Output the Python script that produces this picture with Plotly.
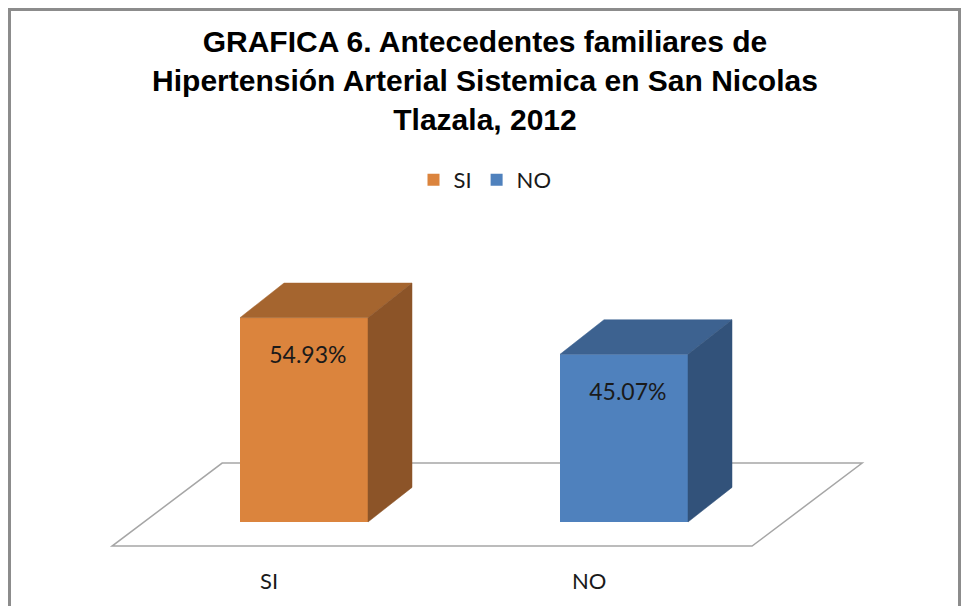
import plotly.graph_objects as go

# data
categories = ["SI", "NO"]
values = [54.93, 45.07]
value_labels = ["54.93%", "45.07%"]

front_colors = ["#DB843D", "#4F81BD"]
top_colors = ["#A5652F", "#3D6290"]
side_colors = ["#8C5428", "#32527A"]

title_text = (
    "GRAFICA 6. Antecedentes familiares de<br>"
    "Hipertensión Arterial Sistemica en San Nicolas<br>"
    "Tlazala, 2012"
)

# the page puts the plot 8px in from each edge
PAGE_PAD = 8
W, H = 969 - 2 * PAGE_PAD, 614 - 2 * PAGE_PAD

# axis scale: category 0 centred at x=296px, value 0 at y=514px
X0_PX, X_SCALE = 304 - PAGE_PAD, 320
Y0_PX, Y_SCALE = 522 - PAGE_PAD, 3.72

BAR_W = 0.4
# fake 3d depth of a bar and of the floor (x units, y units)
BAR_DX, BAR_DY = 0.1375, 9.3
FLOOR_DX, FLOOR_DY = 0.344, 22.3
FLOOR_FRONT = 0.29  # share of the floor depth in front of the bars

fig = go.Figure()

# front faces
for i, (cat, val) in enumerate(zip(categories, values)):
    fig.add_trace(
        go.Bar(
            x=[i],
            y=[val],
            width=BAR_W,
            name=cat,
            marker=dict(color=front_colors[i], line=dict(width=0)),
            hoverinfo="skip",
        )
    )

# top and side faces
for i, val in enumerate(values):
    x0, x1 = i - BAR_W / 2, i + BAR_W / 2
    fig.add_trace(
        go.Scatter(
            x=[x0, x1, x1 + BAR_DX, x0 + BAR_DX, x0],
            y=[val, val, val + BAR_DY, val + BAR_DY, val],
            fill="toself",
            fillcolor=top_colors[i],
            mode="lines",
            line=dict(width=0.5, color=top_colors[i]),
            showlegend=False,
            hoverinfo="skip",
        )
    )
    fig.add_trace(
        go.Scatter(
            x=[x1, x1 + BAR_DX, x1 + BAR_DX, x1, x1],
            y=[0, BAR_DY, val + BAR_DY, val, 0],
            fill="toself",
            fillcolor=side_colors[i],
            mode="lines",
            line=dict(width=0.5, color=side_colors[i]),
            showlegend=False,
            hoverinfo="skip",
        )
    )

# value labels on the front faces
fig.add_trace(
    go.Scatter(
        x=[i + 0.012 for i in range(len(values))],
        y=[v - 10.6 for v in values],
        text=value_labels,
        mode="text",
        textfont=dict(family="Lato", size=23, color="#1a1a1a"),
        showlegend=False,
        hoverinfo="skip",
    )
)

# floor
n = len(categories)
fx0 = -0.5 - FLOOR_FRONT * FLOOR_DX
fx1 = n - 0.5 - FLOOR_FRONT * FLOOR_DX
fy = -FLOOR_FRONT * FLOOR_DY
floor_path = (
    f"M{fx0},{fy} L{fx1},{fy} L{fx1 + FLOOR_DX},{fy + FLOOR_DY} "
    f"L{fx0 + FLOOR_DX},{fy + FLOOR_DY} Z"
)
fig.add_shape(
    type="path",
    path=floor_path,
    xref="x",
    yref="y",
    layer="below",
    fillcolor="white",
    line=dict(color="#a6a6a6", width=1.5),
)

# category labels under the floor
for i, cat in enumerate(categories):
    fig.add_annotation(
        x=i - 0.11,
        y=-15.6,
        text=cat,
        showarrow=False,
        font=dict(family="Lato", size=22, color="#1a1a1a"),
    )

# chart frame
fig.add_shape(
    type="rect",
    xref="paper",
    yref="paper",
    x0=1.5 / W,
    x1=(W - 1.5) / W,
    y0=-0.05,
    y1=1 - 1.5 / H,
    line=dict(color="#8c8c8c", width=3),
)

fig.update_layout(
    width=W,
    height=H,
    margin=dict(l=0, r=0, t=0, b=0),
    paper_bgcolor="white",
    plot_bgcolor="white",
    barmode="overlay",
    title=dict(
        text=title_text,
        x=(485 - PAGE_PAD) / W,
        xanchor="center",
        y=1 - (52 - PAGE_PAD) / H,
        yanchor="middle",
        font=dict(family="Liberation Sans", size=30, color="black", weight="bold"),
    ),
    legend=dict(
        orientation="h",
        x=(485 - PAGE_PAD) / W,
        xanchor="center",
        y=1 - (180 - PAGE_PAD) / H,
        yanchor="middle",
        font=dict(family="Lato", size=22, color="#1a1a1a"),
    ),
    showlegend=True,
    xaxis=dict(
        visible=False,
        range=[-X0_PX / X_SCALE, (W - X0_PX) / X_SCALE],
        fixedrange=True,
    ),
    yaxis=dict(
        visible=False,
        range=[-(H - Y0_PX) / Y_SCALE, Y0_PX / Y_SCALE],
        fixedrange=True,
    ),
)

fig.write_html("out.html")
